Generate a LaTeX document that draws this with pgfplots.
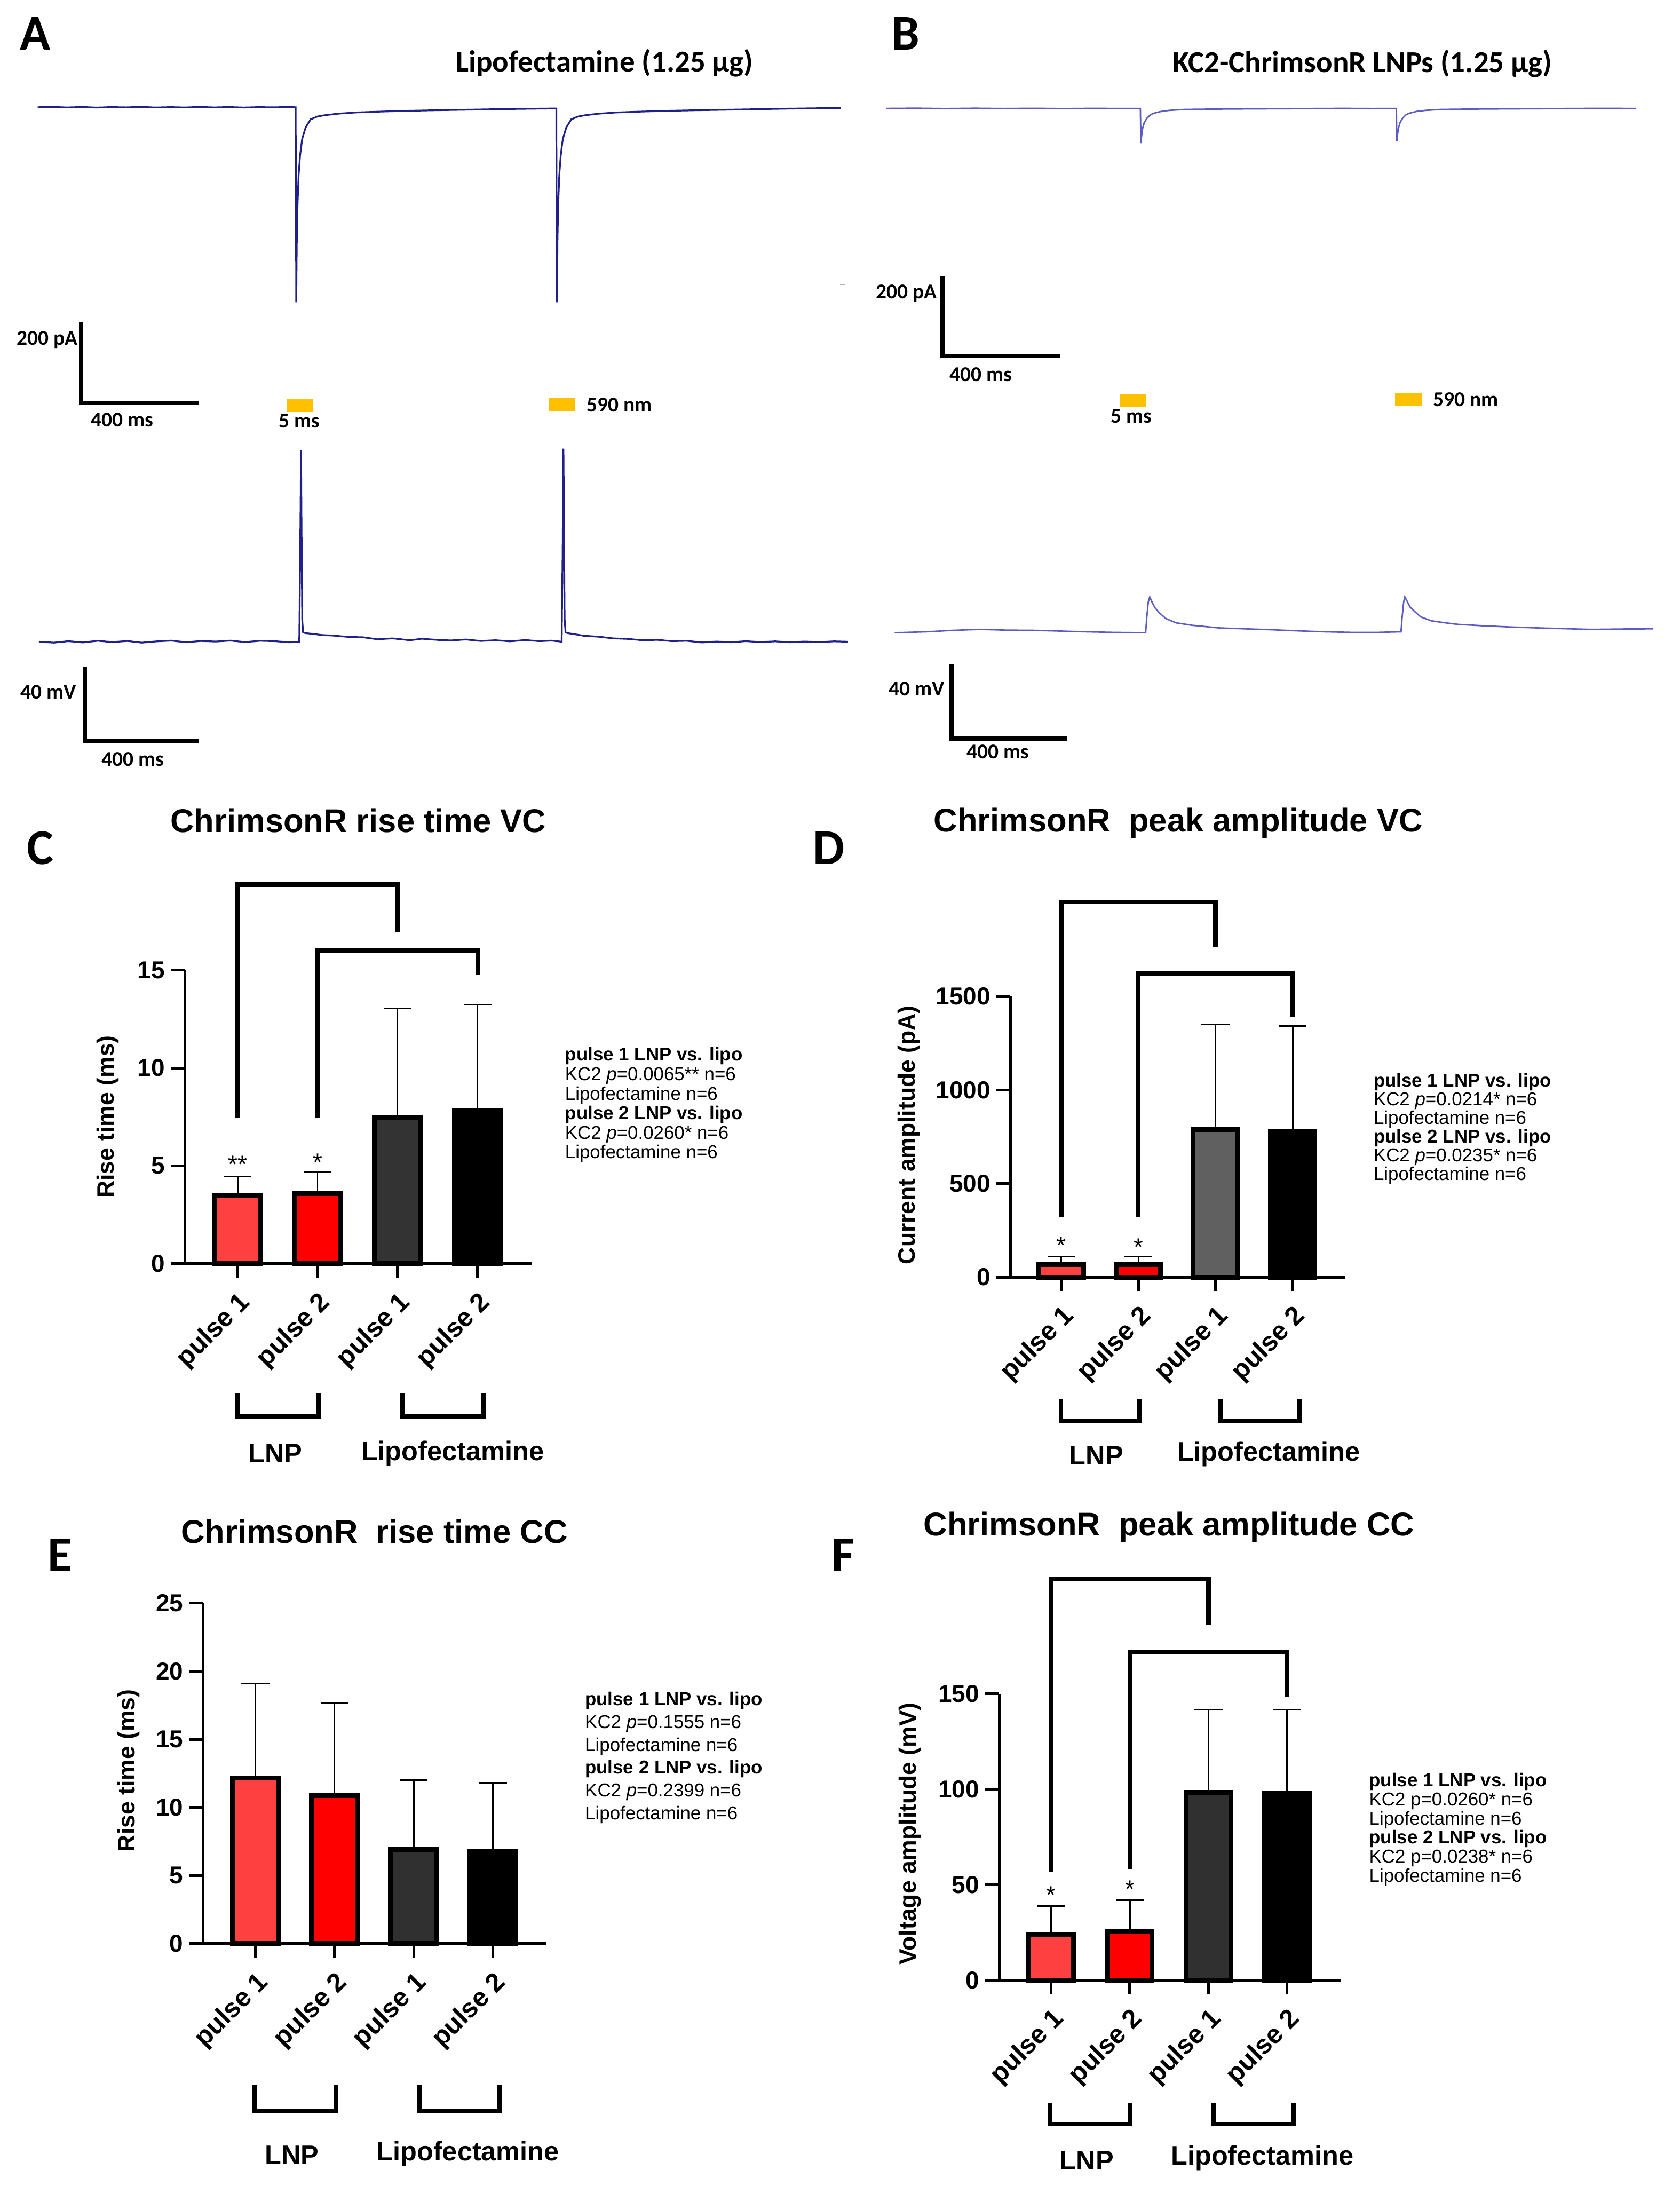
\documentclass[border=0pt]{standalone}
\usepackage{pgfplots}
\pgfplotsset{compat=1.18}
\usepackage{fontspec}
\setmainfont{Liberation Sans}
\newfontfamily\calib{Carlito}
\newcommand{\fs}[2]{\fontsize{#1}{#2}\selectfont}

\definecolor{trA}{RGB}{32,32,138}
\definecolor{trB}{RGB}{92,92,196}
\definecolor{lnpone}{RGB}{255,64,64}
\definecolor{lnptwo}{RGB}{255,0,0}
\definecolor{lipoC}{RGB}{51,51,51}
\definecolor{lipoD}{RGB}{96,96,96}
\definecolor{lipoE}{RGB}{48,48,48}
\definecolor{amber}{RGB}{255,192,0}

\pgfplotsset{
  trace/.style={hide axis, clip=false, anchor=south west, x=0.004224cm},
  prism/.style={
    scale only axis, anchor=south west, clip=false,
    axis x line*=bottom, axis y line*=left,
    xmin=0.34, xmax=4.68, ymin=0,
    xtick={1,2,3,4}, xticklabels={pulse 1,pulse 2,pulse 1,pulse 2},
    tick align=outside, major tick length=0.2cm,
    tick style={black, line width=1.1pt},
    axis line style={black, line width=1.1pt},
    x axis line style={shorten <=-0.2cm},
    /pgf/number format/assume math mode=true,
    /pgf/number format/1000 sep={},
    yticklabel style={font=\bfseries\fs{10}{12}, inner sep=0pt, xshift=-0.08cm},
    xticklabel shift=0.17cm,
    xticklabel style={font=\bfseries\fs{10.8}{12}, rotate=45, anchor=north east, inner sep=0pt},
  },
  pbar/.style={ybar, bar shift=0pt, draw=black, line width=2pt,
    error bars/.cd, y dir=plus, y explicit,
    error bar style={line width=0.65pt, black},
    error mark options={rotate=90, mark size=0.2cm, line width=0.65pt, black}},
}
\tikzset{
  sig/.style={line width=1.9pt},
  star/.style={anchor=north, inner sep=0pt, font=\fs{10}{12}},
  ylab/.style={rotate=90, inner sep=0pt, font=\bfseries\fs{9.7}{12}},
  ttl/.style={anchor=base, inner sep=0pt, font=\bfseries\fs{13.4}{16}},
  grp/.style={anchor=base, inner sep=0pt, font=\bfseries\fs{11}{13}},
  letter/.style={anchor=base, inner sep=0pt, font=\calib\bfseries\fs{20.5}{24}},
  tlab/.style={inner sep=0pt, font=\calib\bfseries\fs{8.6}{10}},
}

% six lines of statistics beside a bar chart
\newcommand{\statblock}[5]{%
  \begin{scope}[every node/.style={anchor=west, inner sep=0pt, text height=0.72em, text depth=0.2em, font=\fs{7.6}{9}}]
  \node at (#1,#2) {\bfseries pulse 1 LNP vs. lipo};
  \node at (#1,#2+#3) {#4};
  \node at (#1,#2+2*#3) {Lipofectamine n=6};
  \node at (#1,#2+3*#3) {\bfseries pulse 2 LNP vs. lipo};
  \node at (#1,#2+4*#3) {#5};
  \node at (#1,#2+5*#3) {Lipofectamine n=6};
  \end{scope}}

% LNP / Lipofectamine group brackets: y-top, y-bottom, x1..x4, label baselines
\newcommand{\groups}[8]{%
  \draw[sig] (#3,#1) -- (#3,#2) -- (#4,#2) -- (#4,#1);
  \draw[sig] (#5,#1) -- (#5,#2) -- (#6,#2) -- (#6,#1);
  \node[grp] at (#7) {LNP};
  \node[grp] at (#8) {Lipofectamine};}

\begin{document}
\begin{tikzpicture}[x=0.02cm, y=-0.02cm]
\useasboundingbox (0,0) rectangle (1205,1568);

% ---------------- A ----------------
\node[letter] at (25.2,35.7) {A};
\node[anchor=base, inner sep=0pt, font=\calib\bfseries\fs{12.4}{14}] at (433.7,51.5) {Lipofectamine (1.25 µg)};

\begin{axis}[trace, y=0.00578cm, xmin=0, xmax=2726, ymin=-500, ymax=20, at={(0.54cm,-4.43cm)}]
\addplot[trA, line width=0.7pt] coordinates {
(0,0) (50,0.8) (100,-0.5) (150,0.6) (200,-0.8) (250,0.4) (300,-0.3) (350,0.9) (400,-0.6) (450,0.3)
(500,-0.5) (550,0.7) (600,-0.4) (650,0.5) (700,-0.7) (750,0.3) (800,-0.2) (850,0.5) (876,0)
(878,-484) (880,-330) (882,-252) (886,-170) (891,-120) (898,-79) (910,-50) (927,-30) (950,-23)
(973,-20) (1020,-16) (1080,-13) (1157,-11) (1250,-9) (1350,-7.5) (1432,-6.5) (1550,-5) (1650,-4) (1761,-3)
(1763,-484) (1765,-330) (1767,-252) (1771,-170) (1776,-120) (1783,-79) (1795,-50) (1812,-30) (1835,-23)
(1858,-20) (1905,-16) (1965,-13) (2042,-11) (2135,-9) (2235,-7.5) (2317,-6.5) (2435,-5) (2550,-3.5)
(2650,-2.5) (2726,-2)};
\end{axis}

\draw[line width=1.8pt] (58.1,231.3) -- (58.1,289.1) -- (142.6,289.1);
\node[tlab, anchor=base east] at (56,247.3) {200 pA};
\node[tlab, anchor=base west] at (65,306.2) {400 ms};
\fill[amber] (205.8,286.2) rectangle (224.8,295.5);
\fill[amber] (393.4,285.5) rectangle (412.8,294.8);
\node[tlab, anchor=base] at (214.7,307) {5 ms};
\node[tlab, anchor=base west] at (420.5,295.5) {590 nm};
\draw[gray!60, line width=0.5pt] (602.5,204) -- (606.5,204);

\begin{axis}[trace, y=0.02676cm, xmin=0, xmax=2747, ymin=-5, ymax=110, at={(0.558cm,-9.342cm)}]
\addplot[trA, line width=0.7pt] coordinates {
(0,0) (50,-0.5) (100,0.3) (150,-0.4) (200,0.5) (250,-0.2) (300,0.4) (350,-0.5) (400,0.2) (450,0.6)
(500,-0.3) (550,0.4) (600,0.1) (650,0.6) (700,-0.2) (750,0.5) (800,0.3) (850,-0.3) (884,0)
(887,45) (890,102.7) (892,55) (894,12) (897,5) (905,4.6) (930,4.2) (960,3.6) (1000,3.3) (1050,2.6)
(1100,2.4) (1150,1.3) (1200,1.8) (1260,0.8) (1300,1.6) (1360,0.9) (1400,0.7) (1450,1.2) (1500,0.4)
(1550,0.8) (1600,0.2) (1650,0.9) (1700,0.3) (1740,0.6) (1775,0)
(1778,45) (1781,103.5) (1783,55) (1785,12) (1788,5) (1796,4.6) (1820,4.0) (1850,3.2) (1900,2.7)
(1950,1.8) (2000,1.5) (2050,0.8) (2100,1.0) (2150,0.3) (2200,0.5) (2250,-0.4) (2300,0.1) (2350,-0.3)
(2400,0.3) (2450,-0.2) (2500,0.2) (2550,-0.3) (2600,0.1) (2650,-0.2) (2700,0.2) (2747,0)};
\end{axis}

\draw[line width=1.8pt] (60.9,478.2) -- (60.9,531.8) -- (142.6,531.8);
\node[tlab, anchor=base east] at (55,501.4) {40 mV};
\node[tlab, anchor=base west] at (72.5,549.6) {400 ms};

% ---------------- B ----------------
\node[letter] at (649.5,35.7) {B};
\node[anchor=base, inner sep=0pt, font=\calib\bfseries\fs{12.4}{14}] at (977.2,51.8) {KC2-ChrimsonR LNPs (1.25 µg)};

\begin{axis}[trace, y=0.00572cm, xmin=0, xmax=2544, ymin=-100, ymax=10, at={(12.72cm,-2.128cm)}]
\addplot[trB, line width=0.6pt] coordinates {
(0,0) (100,0.6) (200,-0.4) (300,0.5) (400,-0.3) (500,0.4) (600,-0.5) (700,0.3) (800,-0.2) (862,0)
(864,-87) (866,-70) (869,-52) (875,-36) (884,-25) (895,-17) (905,-12.5) (930,-8) (958,-5) (1012,-2.5)
(1100,-1.8) (1224,-1.2) (1400,-0.5) (1550,0.2) (1650,-0.3) (1731,0)
(1733,-82) (1735,-66) (1738,-50) (1744,-35) (1753,-24) (1764,-16) (1775,-12) (1800,-7.5) (1828,-5)
(1882,-2.5) (1970,-1.8) (2094,-1.2) (2250,-0.5) (2400,0.2) (2544,0)};
\end{axis}

\draw[gray!60, line width=0.5pt] (603,204) -- (606,204);
\draw[line width=1.8pt] (676.2,198) -- (676.2,255.2) -- (760.8,255.2);
\node[tlab, anchor=base east] at (672.4,214.1) {200 pA};
\node[tlab, anchor=base west] at (681,273.7) {400 ms};
\fill[amber] (803,283) rectangle (821.7,292);
\fill[amber] (1000.8,282) rectangle (1020.2,291);
\node[tlab, anchor=base] at (811.4,303.4) {5 ms};
\node[tlab, anchor=base west] at (1027.8,291.6) {590 nm};

\begin{axis}[trace, y=0.02675cm, xmin=0, xmax=2574, ymin=-3, ymax=22, at={(12.838cm,-9.146cm)}]
\addplot[trB, line width=0.6pt] coordinates {
(0,-0.5) (108,0) (200,0.8) (289,1.3) (380,0.9) (469,0.8) (560,0.4) (650,0) (740,-0.3) (839,-0.5)
(852,-0.5) (856,8) (861,16) (866,18.7) (875,15.5) (884,12.8) (900,10) (920,7.2) (940,5.8) (956,4.8)
(1010,3.5) (1100,2.1) (1190,1.6) (1281,1.1) (1370,0.5) (1461,0) (1550,-0.3) (1642,-0.3) (1719,0)
(1723,8) (1728,16) (1732,18.7) (1741,16) (1750,13.3) (1768,10.5) (1786,8) (1822,5.9) (1870,4.8)
(1912,4) (2002,3.2) (2090,2.6) (2183,2.1) (2270,1.7) (2363,1.3) (2470,1.5) (2574,1.6)};
\end{axis}

\draw[line width=1.8pt] (682.7,476.5) -- (682.7,530) -- (765.7,530);
\node[tlab, anchor=base east] at (678,499) {40 mV};
\node[tlab, anchor=base west] at (693,544.3) {400 ms};

% ---------------- C ----------------
\node[letter] at (29,620) {C};
\node[ttl] at (257,597) {ChrimsonR rise time VC};
\begin{axis}[prism, at={(2.65cm,-18.13cm)}, width=4.984cm, height=4.21cm, ymax=15, ytick={0,5,10,15}]
\addplot[bar width=0.66cm, fill=lnpone, pbar] coordinates {(1,3.46) +- (0,0.99)};
\addplot[bar width=0.66cm, fill=lnptwo, pbar] coordinates {(2,3.58) +- (0,1.10)};
\addplot[bar width=0.66cm, fill=lipoC, pbar] coordinates {(3,7.46) +- (0,5.59)};
\addplot[bar width=0.66cm, fill=black, pbar] coordinates {(4,7.83) +- (0,5.41)};
\draw[sig] (axis cs:1,7.47) -- (axis cs:1,19.37) -- (axis cs:3,19.37) -- (axis cs:3,16.93);
\draw[sig] (axis cs:2,7.47) -- (axis cs:2,16.0) -- (axis cs:4,16.0) -- (axis cs:4,14.77);
\node[star] at (axis cs:1,5.53) {**};
\node[star] at (axis cs:2,5.64) {*};
\end{axis}
\node[ylab] at (77.5,801) {Rise time (ms)};
\statblock{405}{756.4}{14.0}{KC2 \textit{p}=0.0065** n=6}{KC2 \textit{p}=0.0260* n=6}
\groups{999.5}{1015.8}{170.5}{228.6}{288.7}{346.8}{197.6,1049}{324.7,1047.4}

% ---------------- D ----------------
\node[letter] at (594.6,620) {D};
\node[ttl] at (845.1,596.5) {ChrimsonR~~peak amplitude VC};
\begin{axis}[prism, at={(14.498cm,-18.326cm)}, width=4.802cm, height=4.028cm, ymax=1500, ytick={0,500,1000,1500}]
\addplot[bar width=0.64cm, fill=lnpone, pbar] coordinates {(1,68) +- (0,41)};
\addplot[bar width=0.64cm, fill=lnptwo, pbar] coordinates {(2,68) +- (0,41)};
\addplot[bar width=0.64cm, fill=lipoD, pbar] coordinates {(3,789) +- (0,562)};
\addplot[bar width=0.64cm, fill=black, pbar] coordinates {(4,777) +- (0,565)};
\draw[sig] (axis cs:1,318.7) -- (axis cs:1,2005) -- (axis cs:3,2005) -- (axis cs:3,1764);
\draw[sig] (axis cs:2,318.7) -- (axis cs:2,1623) -- (axis cs:4,1623) -- (axis cs:4,1388);
\node[star] at (axis cs:1,216) {*};
\node[star] at (axis cs:2,208) {*};
\end{axis}
\node[ylab] at (651.9,814.1) {Current amplitude (pA)};
\statblock{985}{775}{13.4}{KC2 \textit{p}=0.0214* n=6}{KC2 \textit{p}=0.0235* n=6}
\groups{1003.4}{1019}{761}{817.6}{875.5}{932}{786.4,1050.7}{910,1048.1}

% ---------------- E ----------------
\node[letter] at (43,1127.2) {E};
\node[ttl] at (268.5,1107) {ChrimsonR~~rise time CC};
\begin{axis}[prism, at={(2.914cm,-27.888cm)}, width=4.93cm, height=4.886cm, ymax=25, ytick={0,5,10,15,20,25}]
\addplot[bar width=0.66cm, fill=lnpone, pbar] coordinates {(1,12.17) +- (0,6.94)};
\addplot[bar width=0.66cm, fill=lnptwo, pbar] coordinates {(2,10.86) +- (0,6.78)};
\addplot[bar width=0.66cm, fill=lipoE, pbar] coordinates {(3,6.91) +- (0,5.08)};
\addplot[bar width=0.66cm, fill=black, pbar] coordinates {(4,6.75) +- (0,5.06)};
\end{axis}
\node[ylab] at (92.2,1270.1) {Rise time (ms)};
\statblock{419.3}{1218.8}{16.36}{KC2 \textit{p}=0.1555 n=6}{KC2 \textit{p}=0.2399 n=6}
\groups{1495.1}{1514}{182.9}{241}{300.7}{358.4}{209.3,1552.3}{335.6,1549.7}

% ---------------- F ----------------
\node[letter] at (604.7,1127.2) {F};
\node[ttl] at (838.5,1101.5) {ChrimsonR~~peak amplitude CC};
\begin{axis}[prism, at={(14.338cm,-28.412cm)}, width=4.898cm, height=4.108cm, ymax=150, ytick={0,50,100,150}]
\addplot[bar width=0.64cm, fill=lnpone, pbar] coordinates {(1,23.8) +- (0,14.9)};
\addplot[bar width=0.64cm, fill=lnptwo, pbar] coordinates {(2,25.7) +- (0,16.1)};
\addplot[bar width=0.64cm, fill=lipoE, pbar] coordinates {(3,98.3) +- (0,43.4)};
\addplot[bar width=0.64cm, fill=black, pbar] coordinates {(4,97.8) +- (0,43.9)};
\draw[sig] (axis cs:1,56.7) -- (axis cs:1,210.2) -- (axis cs:3,210.2) -- (axis cs:3,186.1);
\draw[sig] (axis cs:2,58.3) -- (axis cs:2,172) -- (axis cs:4,172) -- (axis cs:4,148.6);
\node[star] at (axis cs:1,49.4) {*};
\node[star] at (axis cs:2,52.5) {*};
\end{axis}
\node[ylab] at (652.7,1315.3) {Voltage amplitude (mV)};
\statblock{981.8}{1277}{13.66}{KC2 p=0.0260* n=6}{KC2 p=0.0238* n=6}
\groups{1508.2}{1523.6}{753}{810.8}{870.6}{928}{779.5,1556.3}{905.5,1553}

\end{tikzpicture}
\end{document}
